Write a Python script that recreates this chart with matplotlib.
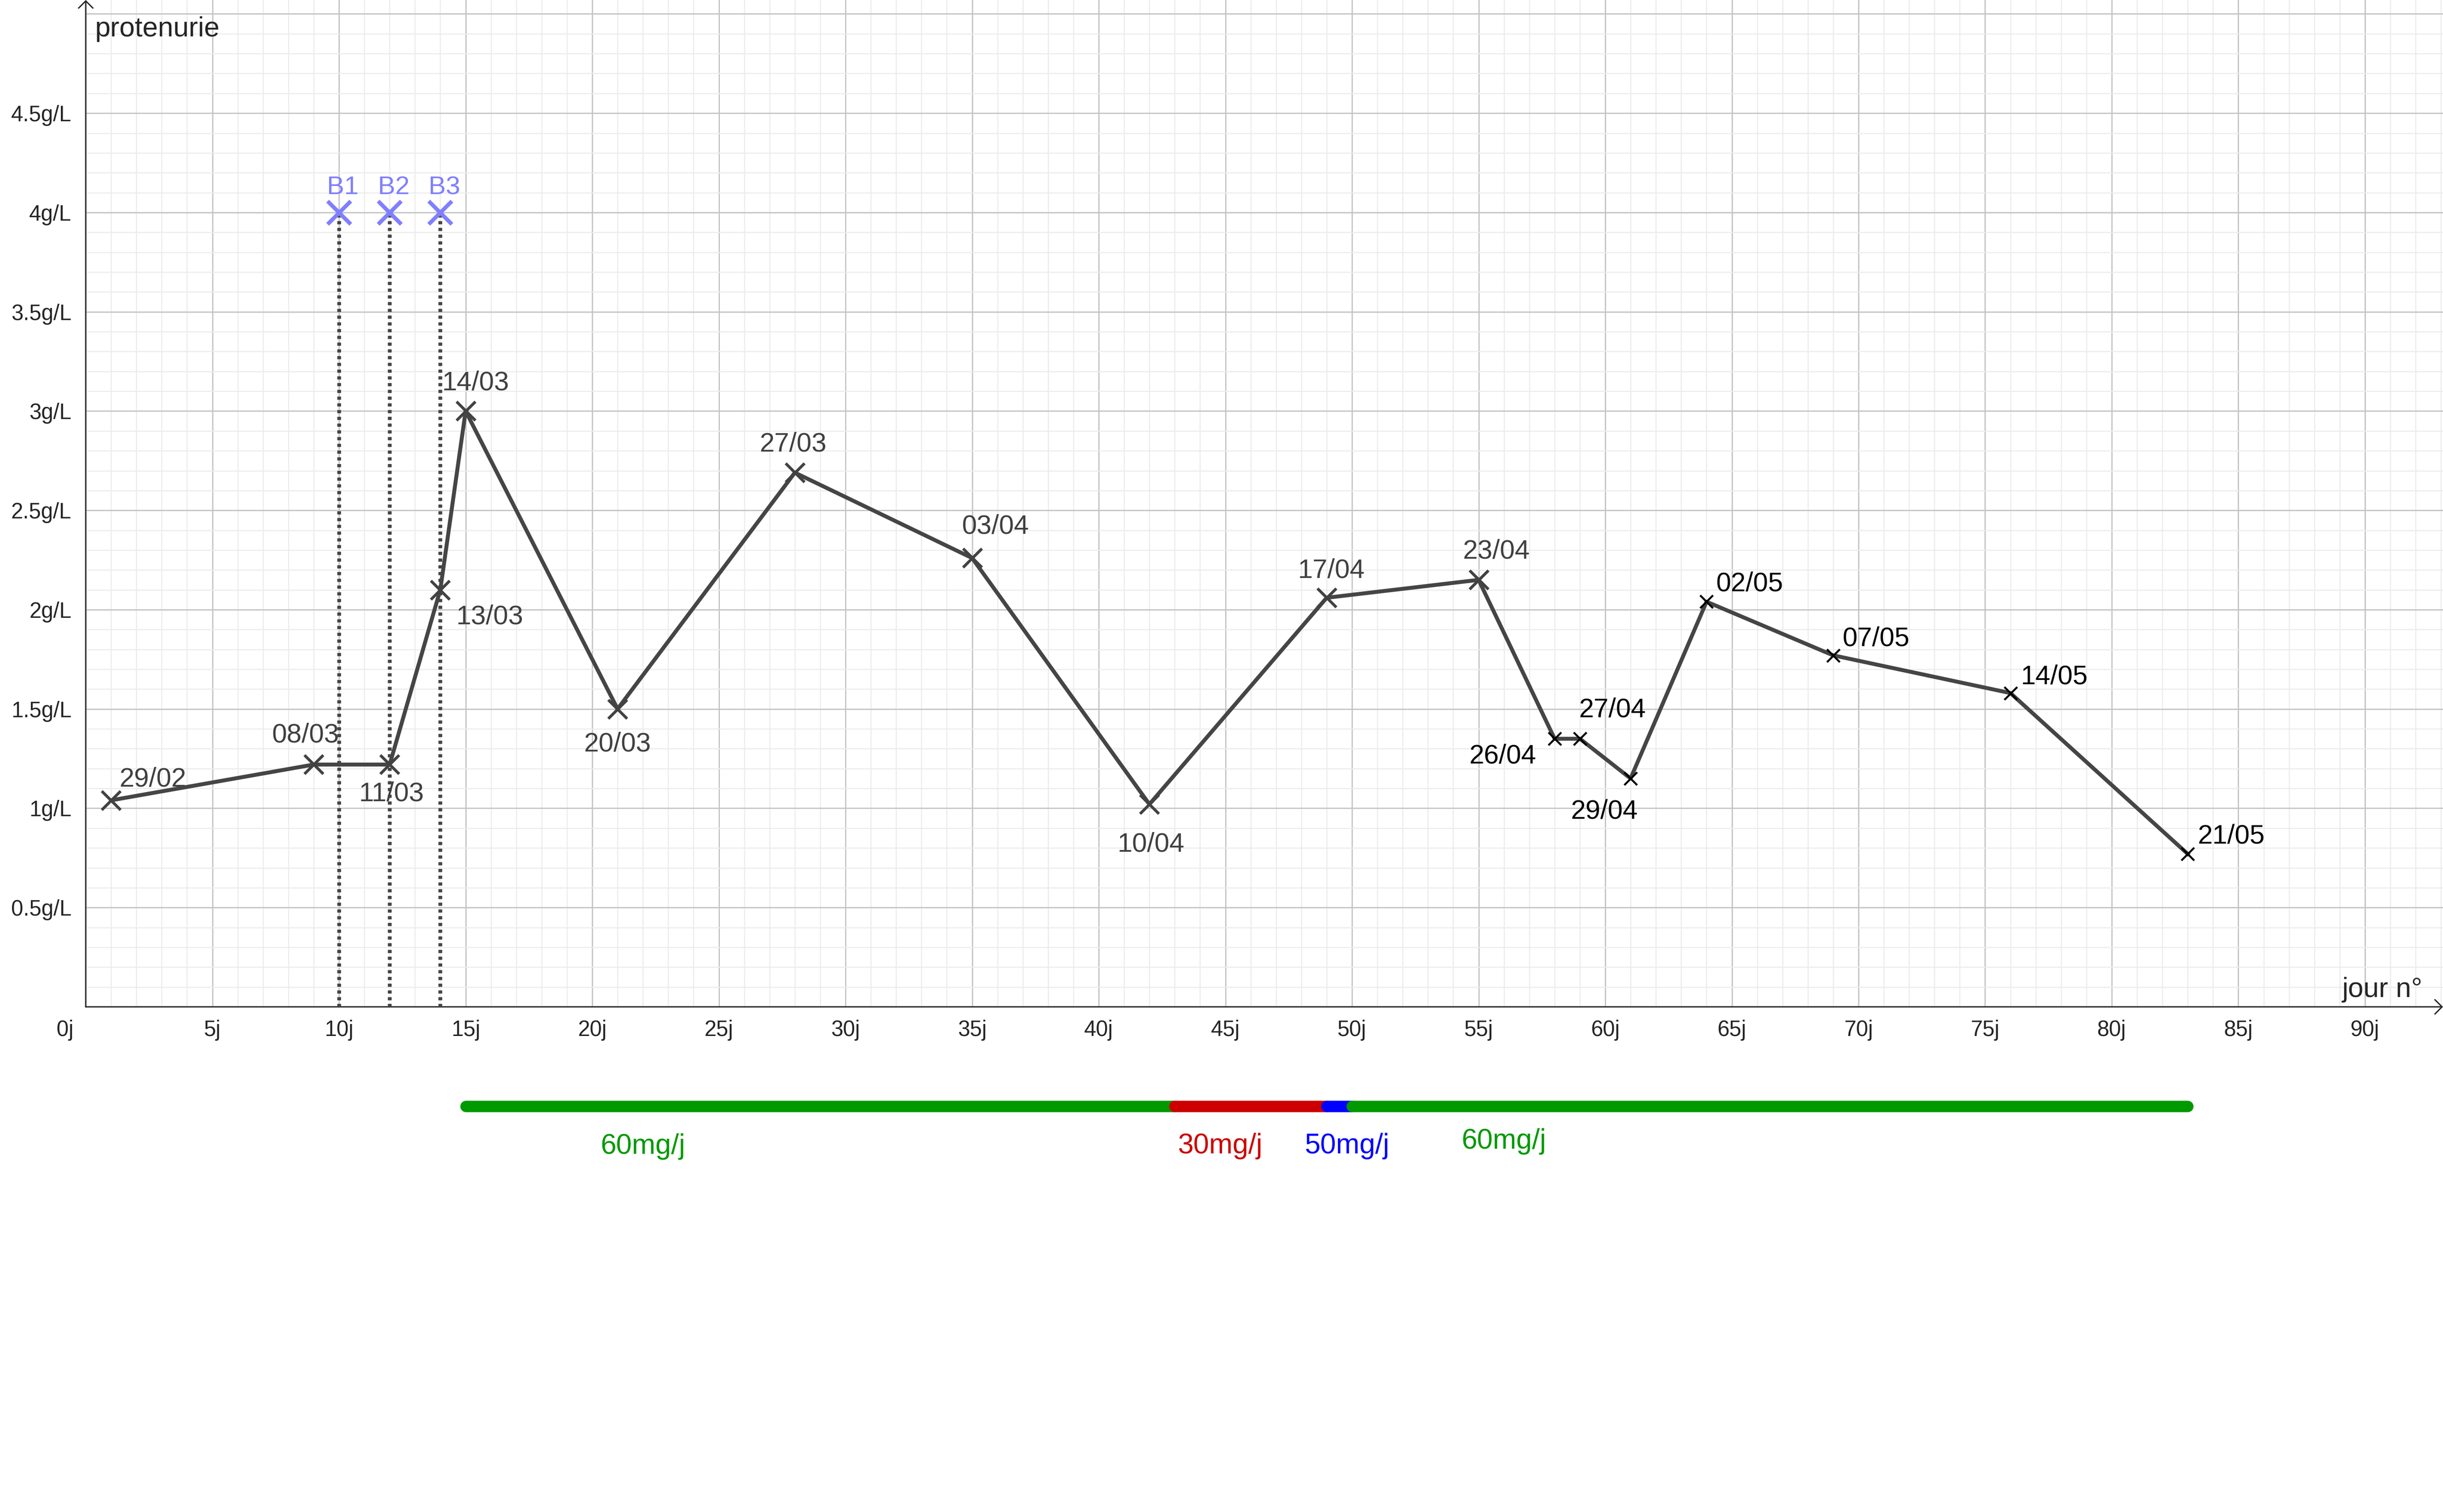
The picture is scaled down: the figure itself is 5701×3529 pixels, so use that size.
import numpy as np
import matplotlib
matplotlib.use('Agg')
import matplotlib.pyplot as plt

plt.rcParams['font.family'] = ['Liberation Sans', 'DejaVu Sans']

# measurements (day number, proteinuria g/L)
dates = ['29/02', '08/03', '11/03', '13/03', '14/03', '20/03', '27/03', '03/04', '10/04',
         '17/04', '23/04', '26/04', '27/04', '29/04', '02/05', '07/05', '14/05', '21/05']
days = [1, 9, 12, 14, 15, 21, 28, 35, 42, 49, 55, 58, 59, 61, 64, 69, 76, 83]
prot = [1.04, 1.22, 1.22, 2.10, 3.00, 1.50, 2.69, 2.26, 1.02,
        2.06, 2.15, 1.35, 1.35, 1.15, 2.04, 1.77, 1.58, 0.77]

# biopsies
b_names = ['B1', 'B2', 'B3']
b_days = [10, 12, 14]
b_level = 4

# treatment periods
dose_start = [15, 43, 49, 50]
dose_end = [43, 49, 50, 83]
dose_labels = ['60mg/j', '30mg/j', '50mg/j', '60mg/j']
dose_colors = ['#009900', '#cc0000', '#0000ff', '#009900']

# label offsets in points (layout only)
lbl_off = [(23.5, 13.4), (-4.6, 18), (1, -14.9), (27.6, -13.7), (5.5, 17.3), (0, -18.3),
           (-0.9, 17.5), (13, 19.2), (0.9, -21), (2.6, 16.6), (10, 17.6), (-29, -8.2),
           (18.3, 17.8), (-14.6, -17), (24, 11.5), (24, 10.8), (24.4, 10.5), (24.4, 11.3)]
dose_txt_x = [22, 44.8, 49.8, 56.0]
dose_txt_y = [-0.74, -0.738, -0.738, -0.715]

n_gray = 11  # first points drawn in dark grey, later ones in black

fig = plt.figure(figsize=(5701 / 300, 3529 / 300), dpi=300)
ax = fig.add_axes([0.0351, 0.3341, 0.9649, 0.6659])
ax.set_xlim(0, 93.08)
ax.set_ylim(0, 5.07)

ax.set_xticks(np.arange(0, 95, 5))
ax.set_xticks(np.arange(0, 94, 1), minor=True)
ax.set_yticks(np.arange(0, 5.01, 0.5))
ax.set_yticks(np.arange(0, 5.07, 0.1), minor=True)
ax.set_xticklabels([''] + [f'{v}j' for v in range(5, 95, 5)])
ax.set_yticklabels([''] + [f'{v:g}g/L' for v in np.arange(0.5, 4.51, 0.5)] + [''])
ax.tick_params(which='both', length=0, labelsize=12.2, colors='#252525')
ax.tick_params(axis='x', pad=7.2)
ax.tick_params(axis='y', pad=8)
ax.grid(which='minor', color='#ececec', lw=0.6, zorder=0)
ax.grid(which='major', color='#c4c4c4', lw=0.7, zorder=0)
ax.set_axisbelow(True)
for s in ax.spines.values():
    s.set_visible(False)

ax.annotate('0j', xy=(0, 0), xytext=(-11.5, -7.2), textcoords='offset points',
            ha='center', va='top', fontsize=12.2, color='#252525')

# axes with arrows
arrow = dict(arrowstyle='->,head_length=0.4,head_width=0.4', lw=0.75, color='#252525',
             shrinkA=0, shrinkB=0)
ax.annotate('', xy=(0, 1), xycoords='axes fraction', xytext=(0, 0), arrowprops=arrow,
            annotation_clip=False)
ax.annotate('', xy=(1, 0), xycoords='axes fraction', xytext=(0, 0), arrowprops=arrow,
            annotation_clip=False)
ax.text(0.37, 4.887, 'protenurie', fontsize=15.5, color='#252525', ha='left', va='baseline')
ax.text(89.1, 0.049, 'jour n°', fontsize=15.5, color='#252525', ha='left', va='baseline')

# biopsy markers
for name, d in zip(b_names, b_days):
    ax.plot([d, d], [0, b_level], ls=(0, (0.85, 0.95)), lw=2.1, color='#444444', zorder=3)
    ax.plot(d, b_level, 'x', ms=13, mew=2.2, color='#7f7fff', zorder=6)
    ax.annotate(name, xy=(d, b_level), xytext=(2.2, 10.3), textcoords='offset points',
                ha='center', va='baseline', fontsize=14.5, color='#7f7fff')

# proteinuria curve
ax.plot(days, prot, '-', color='#454545', lw=2.2, zorder=4)
ax.plot(days[:n_gray], prot[:n_gray], 'x', ms=10.4, mew=1.6, color='#424242', zorder=5)
ax.plot(days[n_gray:], prot[n_gray:], 'x', ms=7.2, mew=1.1, color='black', zorder=5)
for i, (lab, d, p, off) in enumerate(zip(dates, days, prot, lbl_off)):
    col = '#404040' if i < n_gray else 'black'
    ax.annotate(lab, xy=(d, p), xytext=off, textcoords='offset points',
                ha='center', va='center_baseline', fontsize=15, color=col)

# treatment bars below the axis
for x0, x1, c in zip(dose_start, dose_end, dose_colors):
    ax.plot([x0, x1], [-0.5, -0.5], color=c, lw=6.4, solid_capstyle='round', clip_on=False)
for lab, tx, ty, c in zip(dose_labels, dose_txt_x, dose_txt_y, dose_colors):
    ax.text(tx, ty, lab, ha='center', va='baseline', fontsize=15.8, color=c)

fig.savefig('out.png', dpi=300)
